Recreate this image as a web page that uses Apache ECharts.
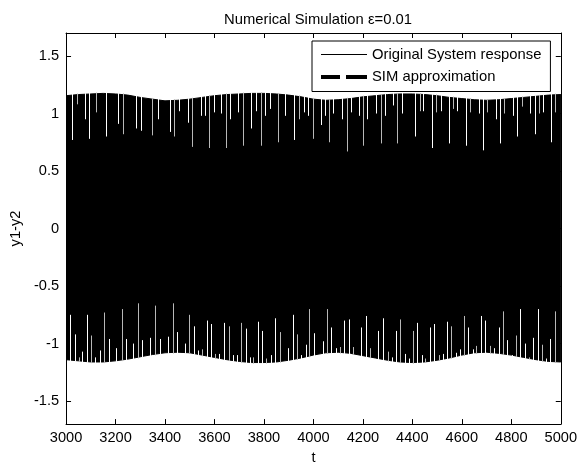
<!DOCTYPE html>
<html>
<head>
<meta charset="utf-8">
<script src="https://cdn.jsdelivr.net/npm/echarts@6/dist/echarts.min.js"></script>
<style>html,body{margin:0;padding:0;background:#fff}#c{width:580px;height:470px}</style>
</head>
<body>
<div id="c"></div>
<script>
// ---- data ----
const tGrid = [3000,3050,3100,3150,3200,3250,3300,3350,3400,3450,3500,3550,3600,3650,3700,3750,3800,3850,3900,3950,4000,4050,4100,4150,4200,4250,4300,4350,4400,4450,4500,4550,4600,4650,4700,4750,4800,4850,4900,4950,5000];
const upperEnv = [1.155,1.165,1.17,1.175,1.17,1.16,1.14,1.125,1.11,1.115,1.125,1.14,1.155,1.165,1.17,1.175,1.175,1.17,1.16,1.145,1.125,1.115,1.12,1.13,1.145,1.155,1.165,1.17,1.17,1.165,1.155,1.14,1.13,1.12,1.115,1.12,1.13,1.14,1.15,1.16,1.165];
const lowerEnv = [-1.14,-1.15,-1.16,-1.16,-1.15,-1.135,-1.115,-1.095,-1.08,-1.075,-1.08,-1.1,-1.12,-1.14,-1.155,-1.165,-1.165,-1.16,-1.145,-1.125,-1.1,-1.08,-1.075,-1.085,-1.105,-1.125,-1.145,-1.16,-1.165,-1.16,-1.145,-1.125,-1.1,-1.08,-1.075,-1.085,-1.1,-1.12,-1.14,-1.155,-1.16];
// gaps in the upper half: [t, lowest value reached by the gap]
const topGaps = [[3025,0.77],[3043,1.08],[3075,0.95],[3092,0.78],[3122,1.01],[3161,0.80],[3212,0.91],[3229,0.82],[3282,0.87],[3301,0.85],[3349,0.81],[3371,0.95],[3420,0.84],[3438,0.80],[3458,1.02],[3491,0.92],[3508,0.71],[3544,0.98],[3562,0.98],[3578,0.70],[3597,1.01],[3628,1.00],[3647,0.70],[3664,0.95],[3697,1.01],[3717,0.72],[3748,0.87],[3766,1.02],[3788,0.72],[3804,0.98],[3824,1.04],[3857,0.75],[3884,0.98],[3923,0.77],[3943,0.95],[3963,1.01],[3979,0.98],[3997,0.78],[4030,0.90],[4046,0.98],[4063,0.75],[4081,1.00],[4116,0.95],[4134,0.67],[4152,1.01],[4183,0.98],[4200,0.72],[4216,0.95],[4253,1.00],[4272,0.74],[4289,0.98],[4323,1.07],[4339,0.74],[4360,1.00],[4409,0.80],[4429,1.02],[4445,1.02],[4480,0.70],[4496,1.01],[4516,1.02],[4549,0.74],[4565,1.04],[4582,1.02],[4615,0.72],[4635,1.01],[4669,1.00],[4686,0.68],[4702,1.01],[4738,0.95],[4755,0.74],[4772,1.00],[4808,0.98],[4825,0.80],[4844,1.06],[4875,1.00],[4895,0.82],[4911,1.00],[4928,1.01],[4962,0.75],[4978,1.01]];
// gaps in the lower half: [t, highest value reached by the gap]
const bottomGaps = [[3016,-0.75],[3035,-0.92],[3052,-1.12],[3065,-1.07],[3083,-0.75],[3101,-0.93],[3118,-1.12],[3136,-1.06],[3152,-0.73],[3172,-0.96],[3202,-1.04],[3225,-0.70],[3242,-0.96],[3271,-1.00],[3291,-0.65],[3309,-0.97],[3341,-0.95],[3361,-0.67],[3378,-0.96],[3411,-0.94],[3431,-0.65],[3448,-0.90],[3482,-1.00],[3498,-0.75],[3518,-0.85],[3535,-1.06],[3551,-1.05],[3568,-0.80],[3588,-0.83],[3604,-1.09],[3617,-1.09],[3637,-0.82],[3657,-0.85],[3673,-1.10],[3691,-1.10],[3708,-0.82],[3727,-0.87],[3744,-1.12],[3757,-1.12],[3777,-0.81],[3794,-0.89],[3810,-1.13],[3828,-1.10],[3846,-0.78],[3864,-0.90],[3897,-1.04],[3917,-0.75],[3934,-0.92],[3950,-1.10],[3970,-1.01],[3983,-0.70],[4003,-0.91],[4037,-0.98],[4054,-0.70],[4073,-0.86],[4090,-1.04],[4107,-1.03],[4123,-0.80],[4143,-0.79],[4160,-1.03],[4194,-0.86],[4212,-0.76],[4230,-1.04],[4263,-0.89],[4280,-0.78],[4300,-1.07],[4316,-1.12],[4333,-0.89],[4349,-0.79],[4369,-1.09],[4387,-1.13],[4403,-0.89],[4420,-0.82],[4438,-1.10],[4453,-1.13],[4472,-0.86],[4489,-0.83],[4509,-1.10],[4522,-1.09],[4540,-0.81],[4558,-0.85],[4576,-1.08],[4592,-1.05],[4609,-0.76],[4626,-0.86],[4645,-1.05],[4659,-1.02],[4678,-0.76],[4695,-0.80],[4715,-1.02],[4729,-1.04],[4749,-0.86],[4766,-0.72],[4784,-0.97],[4802,-1.10],[4818,-0.93],[4835,-0.70],[4855,-1.00],[4871,-1.12],[4888,-0.95],[4906,-0.70],[4924,-1.01],[4941,-1.13],[4955,-0.96],[4975,-0.72]];
const simApprox = [];
const yTicks = [-1.5,-1,-0.5,0,0.5,1,1.5];
const xMin = 3000, xMax = 5000, xStep = 200;
const yMin = -1.7, yMax = 1.7;
const titleText = 'Numerical Simulation \u03b5=0.01';
const legendNames = ['Original System response','SIM approximation'];

// ---- chart ----
const FONT = '"Liberation Sans", Arial, Helvetica, sans-serif';
function envAt(arr, t){
  for (let i = 0; i < tGrid.length - 1; i++) {
    if (t >= tGrid[i] && t <= tGrid[i+1]) {
      const f = (t - tGrid[i]) / (tGrid[i+1] - tGrid[i]);
      return arr[i] + f * (arr[i+1] - arr[i]);
    }
  }
  return arr[arr.length - 1];
}
const gapData = topGaps.map(d => [d[0], d[1], 1]).concat(bottomGaps.map(d => [d[0], d[1], -1]));
const chart = echarts.init(document.getElementById('c'), null, {renderer: 'canvas'});
const plain = v => String(v);
const axisCommon = {
  axisLine: {show: true, onZero: false, lineStyle: {color: '#000', width: 1}},
  axisTick: {show: true, inside: true, length: 5, lineStyle: {color: '#000'}},
  splitLine: {show: false}
};
chart.setOption({
  animation: false,
  backgroundColor: '#fff',
  title: {
    text: titleText, left: 313, top: 7, textAlign: 'center',
    textStyle: {fontFamily: FONT, fontSize: 14.8, fontWeight: 'normal', color: '#000'}
  },
  grid: {left: 62, right: 17, top: 33, bottom: 41, containLabel: false},
  legend: {
    left: 312, top: 41, orient: 'vertical', selectedMode: false,
    backgroundColor: '#fff', borderColor: '#000', borderWidth: 1, borderRadius: 0,
    padding: [5.5, 9, 6.5, 9], itemGap: 6.5, itemWidth: 46, itemHeight: 16,
    textStyle: {fontFamily: FONT, fontSize: 14.8, color: '#000', lineHeight: 16},
    data: [
      {name: legendNames[0], icon: 'path://M0,0h46v1h-46z', itemStyle: {color: '#000'}},
      {name: legendNames[1], icon: 'path://M0,0h19v4h-19z M25,0h21v4h-21z', itemStyle: {color: '#000'}}
    ]
  },
  xAxis: [
    Object.assign({}, axisCommon, {
      type: 'value', position: 'bottom', min: xMin, max: xMax, interval: xStep,
      name: 't', nameLocation: 'middle', nameGap: 21,
      nameTextStyle: {fontFamily: FONT, fontSize: 14.6, color: '#000'},
      axisLabel: {show: true, margin: 6, fontFamily: FONT, fontSize: 14.6, color: '#000', formatter: plain}
    }),
    Object.assign({}, axisCommon, {
      type: 'value', position: 'top', min: xMin, max: xMax, interval: xStep,
      axisLabel: {show: false}
    })
  ],
  yAxis: [
    Object.assign({}, axisCommon, {
      type: 'value', position: 'left', min: yMin, max: yMax,
      name: 'y1-y2', nameLocation: 'middle', nameGap: 30, nameRotate: 90,
      nameTextStyle: {fontFamily: FONT, fontSize: 14.6, color: '#000'},
      axisTick: {show: true, inside: true, length: 5, lineStyle: {color: '#000'}, customValues: yTicks},
      axisLabel: {show: true, margin: 7, fontFamily: FONT, fontSize: 14.6, color: '#000', customValues: yTicks, formatter: plain}
    }),
    Object.assign({}, axisCommon, {
      type: 'value', position: 'right', min: yMin, max: yMax,
      axisTick: {show: true, inside: true, length: 5, lineStyle: {color: '#000'}, customValues: yTicks},
      axisLabel: {show: false, customValues: yTicks}
    })
  ],
  series: [
    {
      name: legendNames[0], type: 'custom', clip: true, z: 2,
      itemStyle: {color: '#000'},
      data: tGrid.map((t, i) => [t, upperEnv[i], lowerEnv[i]]),
      encode: {x: 0, y: [1, 2]},
      renderItem: function (params, api) {
        if (params.dataIndex !== 0) return null;
        const pts = [];
        for (let i = 0; i < tGrid.length; i++) pts.push(api.coord([tGrid[i], upperEnv[i]]));
        for (let i = tGrid.length - 1; i >= 0; i--) pts.push(api.coord([tGrid[i], lowerEnv[i]]));
        return {type: 'polygon', shape: {points: pts}, style: {fill: '#000', stroke: '#000', lineWidth: 1}};
      }
    },
    {
      name: 'gaps', type: 'custom', clip: true, z: 3, silent: true,
      data: gapData,
      encode: {x: 0, y: 1},
      renderItem: function (params, api) {
        const t = api.value(0), end = api.value(1), side = api.value(2);
        const edge = side > 0 ? envAt(upperEnv, t) + 0.01 : envAt(lowerEnv, t) - 0.01;
        const p1 = api.coord([t, end]);
        const p2 = api.coord([t, edge]);
        const x = Math.round(p1[0]) + 0.5;
        return {type: 'line', shape: {x1: x, y1: p1[1], x2: x, y2: p2[1]},
          style: {stroke: params.dataIndex % 3 === 1 ? '#b8b8b8' : '#ffffff', lineWidth: 1}};
      }
    },
    {
      name: legendNames[1], type: 'line', data: simApprox, showSymbol: false,
      itemStyle: {color: '#000'}, lineStyle: {color: '#000', width: 4, type: 'dashed'}
    }
  ]
});
</script>
</body>
</html>
